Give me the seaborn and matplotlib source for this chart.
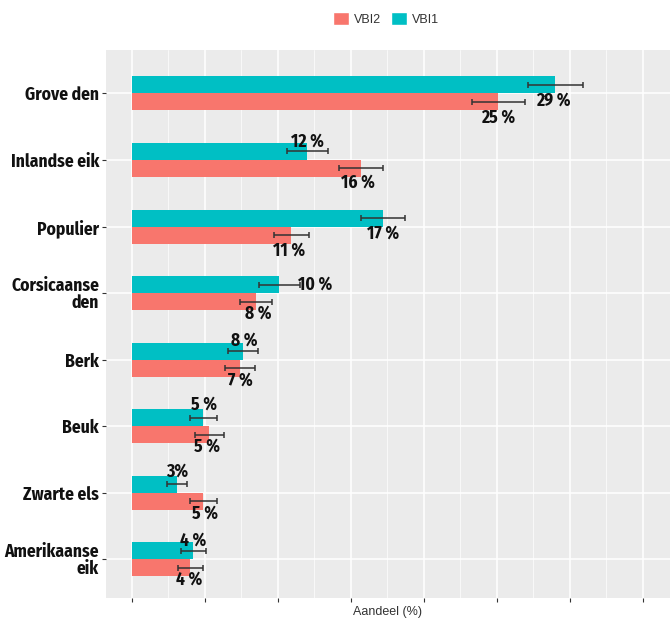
import os
import pandas as pd
import numpy as np
import matplotlib
matplotlib.use("Agg")
import matplotlib.pyplot as plt
import seaborn as sns
from matplotlib.patches import Patch
from matplotlib import font_manager as fm
from matplotlib.textpath import TextPath

# data
soorten = ["Grove den", "Inlandse eik", "Populier", "Corsicaanse\nden",
           "Berk", "Beuk", "Zwarte els", "Amerikaanse\neik"]
vbi1 = [29.0, 12.0, 17.2, 10.1, 7.6, 4.9, 3.1, 4.2]
vbi2 = [25.1, 15.7, 10.9, 8.5, 7.4, 5.3, 4.9, 4.0]
vbi1_err = [1.9, 1.4, 1.5, 1.4, 1.05, 0.9, 0.7, 0.85]
vbi2_err = [1.8, 1.5, 1.2, 1.1, 1.05, 1.0, 0.95, 0.85]
vbi1_lbl = ["29 %", "12 %", "17 %", "10 %", "8 %", "5 %", "3%", "4 %"]
vbi2_lbl = ["25 %", "16 %", "11 %", "8 %", "7 %", "5 %", "5 %", "4 %"]

# label nudges in pixels (dx right, dy down)
vbi1_dx = [-2, 0, 0, 36, 1, 1, 0, 0]
vbi1_dy = [16, -10, 15, 0, -11, -13, -13, -10]
vbi2_dx = [0, -3, -2, 2, 0, -2, 2, -1]
vbi2_dy = [16, 14, 15, 12, 12, 12, 12, 12]

df = pd.DataFrame({
    "soort": soorten * 2,
    "meting": ["VBI1"] * len(soorten) + ["VBI2"] * len(soorten),
    "aandeel": vbi1 + vbi2,
})

kleuren = {"VBI1": "#00BFC4", "VBI2": "#F8766D"}

sns.set_theme(style="darkgrid", rc={"axes.facecolor": "#EBEBEB"})
plt.rcParams["font.family"] = ["Liberation Sans", "DejaVu Sans"]


# the original uses a condensed bold face; pick the installed one
# whose width of "Grove den" comes closest (~70 px at 12 pt)
def text_px(fname, size):
    prop = fm.FontProperties(fname=fname, size=size)
    return TextPath((0, 0), "Grove den", prop=prop).get_extents().width * 100 / 72


cands = []
for f in fm.fontManager.ttflist:
    b = os.path.basename(f.fname).lower()
    if "mono" in b or "italic" in b or "oblique" in b:
        continue
    if ("condensed" in b or "narrow" in b) and "bold" in b \
            and "semibold" not in b and "extrabold" not in b:
        cands.append(f.fname)

if cands:
    widths = {c: text_px(c, 12) for c in set(cands)}
    narrow_file = min(widths, key=lambda c: abs(widths[c] - 70))
    size = 12 * float(np.clip(73 / widths[narrow_file], 0.85, 1.12))
    bold_font = fm.FontProperties(fname=narrow_file, size=size)
else:
    bold_font = fm.FontProperties(family=["Lato", "DejaVu Sans"],
                                  weight="bold", size=11)

fig = plt.figure(figsize=(6.7, 6.19), dpi=100)
ax = fig.add_axes([0.158, 0.034, 0.842, 0.885])

sns.barplot(data=df, x="aandeel", y="soort", hue="meting",
            hue_order=["VBI1", "VBI2"], palette=kleuren, width=0.51,
            orient="h", errorbar=None, legend=False, saturation=1,
            linewidth=0, ax=ax)

# error bars and labels on top of the bars
for cont, errs, lbls, dxs, dys in zip(ax.containers,
                                      [vbi1_err, vbi2_err],
                                      [vbi1_lbl, vbi2_lbl],
                                      [vbi1_dx, vbi2_dx],
                                      [vbi1_dy, vbi2_dy]):
    for bar, e, t, dx, dy in zip(cont, errs, lbls, dxs, dys):
        yc = bar.get_y() + bar.get_height() / 2
        w = bar.get_width()
        ax.errorbar(w, yc, xerr=e, fmt="none", ecolor="#333333",
                    elinewidth=1.1, capsize=2, capthick=1.1, zorder=4)
        ax.annotate(t, (w, yc), xytext=(dx, -dy), textcoords="offset pixels",
                    ha="center", va="center", fontproperties=bold_font,
                    color="#111111", zorder=5)

ax.set_xlim(-1.78, 36.85)
ax.set_ylim(7.58, -0.65)
ax.set_xticks(np.arange(0, 36, 5))
ax.set_xticks(np.arange(2.5, 36, 5), minor=True)
ax.set_xticklabels([])
ax.grid(which="major", color="white", linewidth=1.1)
ax.grid(which="minor", axis="x", color="white", linewidth=0.5)
ax.tick_params(axis="both", which="major", length=3, width=0.8,
               color="#333333", pad=2, bottom=True, left=True)
ax.tick_params(axis="x", which="minor", length=0)
for lab in ax.get_yticklabels():
    lab.set_fontproperties(bold_font)
    lab.set_color("#111111")
    lab.set_linespacing(0.95)

ax.set_ylabel("")
ax.set_xlabel("Aandeel (%)", fontsize=9, color="#333333", labelpad=1)
for s in ax.spines.values():
    s.set_visible(False)

handles = [Patch(facecolor=kleuren["VBI2"], label="VBI2"),
           Patch(facecolor=kleuren["VBI1"], label="VBI1")]
fig.legend(handles=handles, loc="center", bbox_to_anchor=(0.576, 0.970),
           ncol=2, frameon=False, fontsize=9, handlelength=1.3,
           handleheight=1.3, handletextpad=0.4, columnspacing=0.8,
           labelcolor="#333333")

fig.savefig("out.png", dpi=100)
